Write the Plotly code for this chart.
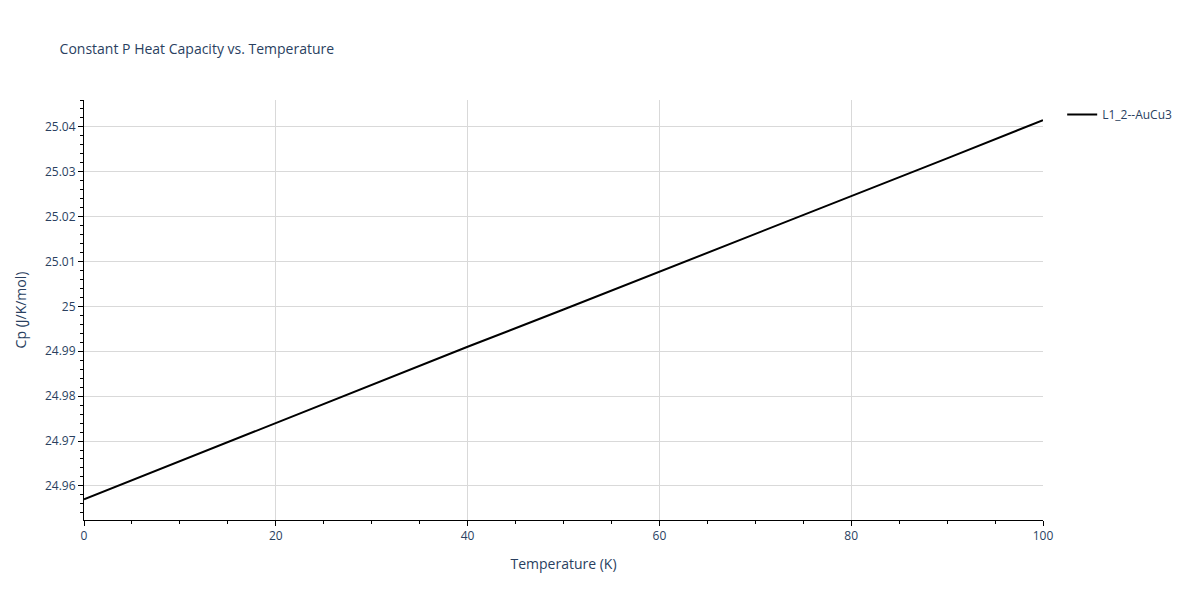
import plotly.graph_objects as go

temperature = [0, 10, 20, 30, 40, 50, 60, 70, 80, 90, 100]
cp = [24.957, 24.9655, 24.974, 24.9825, 24.991, 24.9993, 25.0077, 25.0161, 25.0245, 25.033, 25.0415]

fig = go.Figure()
fig.add_scatter(x=temperature, y=cp, mode="lines", name="L1_2--AuCu3",
                line=dict(color="black", width=2))

axis_common = dict(showline=True, linecolor="black", linewidth=1,
                   ticks="outside", ticklen=5, tickcolor="black",
                   gridcolor="#d9d9d9", zeroline=False,
                   minor=dict(ticks="outside", ticklen=3, tickcolor="black", showgrid=False))

fig.update_layout(
    title=dict(text="Constant P Heat Capacity vs. Temperature", x=0.043, y=0.94,
               font=dict(size=14)),
    width=1200, height=600,
    plot_bgcolor="white", paper_bgcolor="white",
    margin=dict(l=71, r=165, t=92, b=88),
    font=dict(family="Open Sans, sans-serif", color="#2a3f5f", size=12),
    legend=dict(x=1.02, y=1, xanchor="left", yanchor="top"),
    showlegend=True,
)
fig.update_xaxes(title_text="Temperature (K)", range=[0, 100], dtick=20,
                 minor_dtick=5, **axis_common)
fig.update_yaxes(title_text="Cp (J/K/mol)", range=[24.9524, 25.046], dtick=0.01,
                 minor_dtick=0.002, **axis_common)

fig.write_html("out.html")
